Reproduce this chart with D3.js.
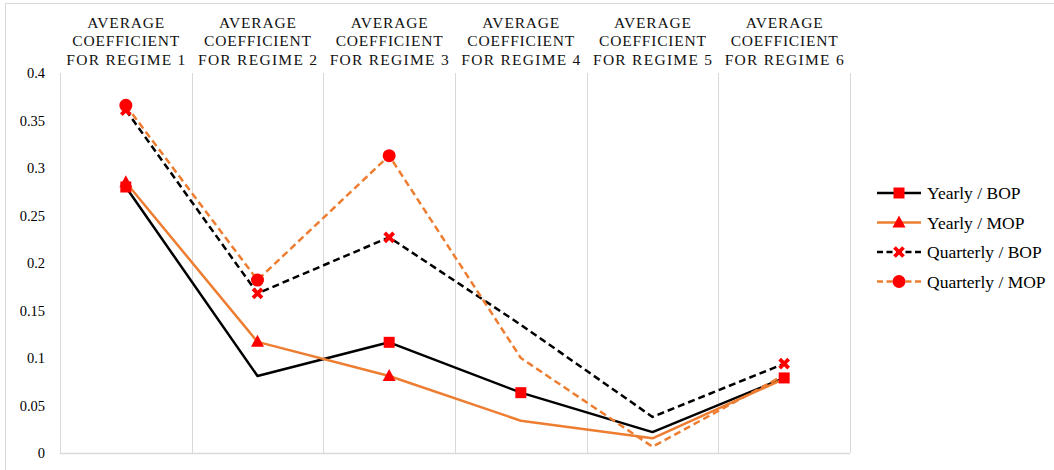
<!DOCTYPE html>
<html>
<head>
<meta charset="utf-8">
<script src="https://cdn.jsdelivr.net/npm/d3@7"></script>
<style>
  html, body { margin: 0; padding: 0; background: #fff; }
  svg { display: block; }
</style>
</head>
<body>
<svg id="chart" width="1054" height="470"></svg>
<script>
// Category headings (split into three lines when drawn)
const categories = [
  "AVERAGE COEFFICIENT FOR REGIME 1",
  "AVERAGE COEFFICIENT FOR REGIME 2",
  "AVERAGE COEFFICIENT FOR REGIME 3",
  "AVERAGE COEFFICIENT FOR REGIME 4",
  "AVERAGE COEFFICIENT FOR REGIME 5",
  "AVERAGE COEFFICIENT FOR REGIME 6"
];

// Series values per regime
const yearlyBOP    = [0.280, 0.081, 0.1165, 0.0635, 0.022, 0.079];
const yearlyMOP    = [0.285, 0.117, 0.081, 0.034, 0.0155, 0.078];
const quarterlyBOP = [0.361, 0.168, 0.227, 0.135, 0.038, 0.094];
const quarterlyMOP = [0.366, 0.182, 0.313, 0.100, 0.0066, 0.082];

// Which points carry a marker (1 = marked)
const yearlyBOPMarked    = [1, 0, 1, 1, 0, 1];
const yearlyMOPMarked    = [1, 1, 1, 0, 0, 0];
const quarterlyBOPMarked = [1, 1, 1, 0, 0, 1];
const quarterlyMOPMarked = [1, 1, 1, 0, 0, 0];

const seriesNames = ["Yearly / BOP", "Yearly / MOP", "Quarterly / BOP", "Quarterly / MOP"];
const yTicks = [0, 0.05, 0.1, 0.15, 0.2, 0.25, 0.3, 0.35, 0.4];

const series = [
  { name: seriesNames[0], values: yearlyBOP,    marked: yearlyBOPMarked,    color: "#000000", dash: null,  marker: "square" },
  { name: seriesNames[1], values: yearlyMOP,    marked: yearlyMOPMarked,    color: "#ED7D31", dash: null,  marker: "triangle" },
  { name: seriesNames[2], values: quarterlyBOP, marked: quarterlyBOPMarked, color: "#000000", dash: "7,4", marker: "x" },
  { name: seriesNames[3], values: quarterlyMOP, marked: quarterlyMOPMarked, color: "#ED7D31", dash: "7,4", marker: "circle" }
];

const FONT = "'Liberation Serif', 'Times New Roman', serif";
const GRID = "#d9d9d9";
const MARK = "#FF0000";

const svg = d3.select("#chart");

// Outer chart frame (top and left edges)
svg.append("line").attr("x1", 5).attr("x2", 1054).attr("y1", 3.5).attr("y2", 3.5)
  .attr("stroke", GRID).attr("stroke-width", 1);
svg.append("line").attr("x1", 5.5).attr("x2", 5.5).attr("y1", 3).attr("y2", 470)
  .attr("stroke", GRID).attr("stroke-width", 1);

const plot = { left: 60, right: 850, top: 73, bottom: 453 };

const x = d3.scaleBand().domain(categories).range([plot.left, plot.right]).padding(0);
const y = d3.scaleLinear().domain([0, 0.4]).range([plot.bottom, plot.top]);
const cx = c => x(c) + x.bandwidth() / 2;

// Vertical category separators
const bounds = categories.map(c => x(c)).concat([plot.right]);
svg.append("g").selectAll("line").data(bounds).join("line")
  .attr("x1", d => Math.round(d) + 0.5).attr("x2", d => Math.round(d) + 0.5)
  .attr("y1", plot.top).attr("y2", plot.bottom)
  .attr("stroke", GRID).attr("stroke-width", 1);

// Baseline
svg.append("line").attr("x1", plot.left).attr("x2", plot.right)
  .attr("y1", plot.bottom + 0.5).attr("y2", plot.bottom + 0.5)
  .attr("stroke", GRID).attr("stroke-width", 1.5);

// Y axis labels
const yAxis = d3.axisLeft(y).tickValues(yTicks).tickSize(0).tickPadding(0)
  .tickFormat(d => d3.format("")(+d.toFixed(2)));
const yg = svg.append("g").attr("transform", `translate(45,0)`).call(yAxis);
yg.select(".domain").remove();
yg.selectAll("text").attr("font-family", FONT).attr("font-size", 14.5).attr("fill", "#000")
  .attr("dy", "0.32em");

// Category headings on top
const head = svg.append("g");
const lineWidths = [77, 107, 119];
categories.forEach(c => {
  const words = c.split(" ");
  const lines = [words[0], words[1], words.slice(2).join(" ")];
  lines.forEach((t, i) => {
    head.append("text")
      .attr("x", cx(c)).attr("y", 27.5 + i * 18.5)
      .attr("text-anchor", "middle")
      .attr("font-family", FONT).attr("font-size", 15.5)
      .attr("fill", "#111")
      .attr("textLength", lineWidths[i]).attr("lengthAdjust", "spacing")
      .text(t);
  });
});

// Marker drawing helper
function drawMarker(g, type, px, py) {
  if (type === "square") {
    g.append("rect").attr("x", px - 5.5).attr("y", py - 5.5).attr("width", 11).attr("height", 11)
      .attr("fill", MARK);
  } else if (type === "triangle") {
    g.append("path").attr("d", `M${px},${py - 7} L${px + 6.5},${py + 5} L${px - 6.5},${py + 5} Z`)
      .attr("fill", MARK);
  } else if (type === "circle") {
    g.append("circle").attr("cx", px).attr("cy", py).attr("r", 6.5).attr("fill", MARK);
  } else if (type === "x") {
    const s = 4.5;
    g.append("path").attr("d", `M${px - s},${py - s} L${px + s},${py + s} M${px + s},${py - s} L${px - s},${py + s}`)
      .attr("stroke", MARK).attr("stroke-width", 3.8).attr("fill", "none");
  }
}

// Lines
const line = d3.line().x(d => cx(d.c)).y(d => y(d.v));
series.forEach(s => {
  const pts = categories.map((c, i) => ({ c, v: s.values[i], m: s.marked[i] }));
  const g = svg.append("g");
  g.append("path").datum(pts).attr("d", line)
    .attr("fill", "none").attr("stroke", s.color).attr("stroke-width", 2.5)
    .attr("stroke-dasharray", s.dash).attr("stroke-linejoin", "round");
});
// Markers on top
series.forEach(s => {
  const g = svg.append("g");
  categories.forEach((c, i) => {
    if (s.marked[i]) drawMarker(g, s.marker, cx(c), y(s.values[i]));
  });
});

// Legend
const legend = svg.append("g");
series.forEach((s, i) => {
  const ly = 193 + i * 29.5;
  legend.append("line").attr("x1", 877).attr("x2", 921).attr("y1", ly).attr("y2", ly)
    .attr("stroke", s.color).attr("stroke-width", 2.5)
    .attr("stroke-dasharray", s.dash ? "6,3.5" : null);
  drawMarker(legend, s.marker, 899, ly);
  legend.append("text").attr("x", 927).attr("y", ly).attr("dy", "0.35em")
    .attr("font-family", FONT).attr("font-size", 17.5).attr("fill", "#000")
    .text(s.name);
});
</script>
</body>
</html>
